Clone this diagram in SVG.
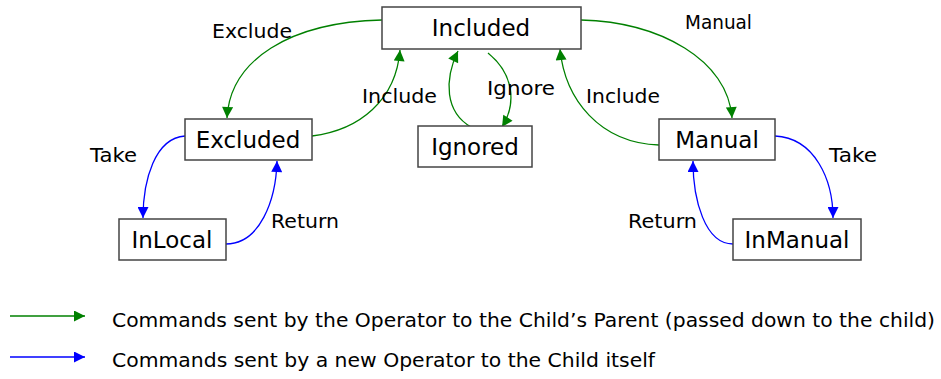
<svg xmlns="http://www.w3.org/2000/svg" width="941" height="379" viewBox="0 0 941 379">
<defs>
<style>
.box{fill:#fff;stroke:#444;stroke-width:1.5}
.nt{font-family:"DejaVu Sans","Liberation Sans",sans-serif;font-size:23px;fill:#000;text-anchor:middle}
.lb{font-family:"DejaVu Sans","Liberation Sans",sans-serif;font-size:19px;fill:#000}
.lg{font-family:"DejaVu Sans","Liberation Sans",sans-serif;font-size:19px;fill:#000}
.g{fill:none;stroke:#008000;stroke-width:1.3;marker-end:url(#ag)}
.b{fill:none;stroke:#0000ff;stroke-width:1.3;marker-end:url(#ab)}
</style>
<marker id="ag" viewBox="0 0 10 10" refX="10" refY="5" markerWidth="12" markerHeight="11" markerUnits="userSpaceOnUse" orient="auto"><path d="M0,0 L10,5 L0,10 z" fill="#008000"/></marker>
<marker id="ab" viewBox="0 0 10 10" refX="10" refY="5" markerWidth="12" markerHeight="11" markerUnits="userSpaceOnUse" orient="auto"><path d="M0,0 L10,5 L0,10 z" fill="#0000ff"/></marker>
</defs>
<rect width="941" height="379" fill="#fff"/>
<g id="connectors">
<path class="g" d="M382,20 C290,22 230,60 227,118"/>
<path class="g" d="M312,136 C360,130 396,100 400,50"/>
<path class="g" d="M488,53 C515,75 516,105 502,127"/>
<path class="g" d="M471,127 C445,112 444,80 458,51"/>
<path class="g" d="M581,20 C660,22 728,60 732,118"/>
<path class="g" d="M659,145 C600,143 565,100 560,49"/>
<path class="b" d="M185,136 C155,138 143,180 143,218"/>
<path class="b" d="M226,244 C260,244 276,200 277,161"/>
<path class="b" d="M775,136 C815,138 833,180 833,218"/>
<path class="b" d="M733,244 C705,244 693,200 693,161"/>
<path class="g" d="M10,316 L85,316"/>
<path class="b" d="M10,357 L85,357"/>
</g>
<g id="labels">
<text class="lb" x="212" y="38" textLength="80" lengthAdjust="spacingAndGlyphs">Exclude</text>
<text class="lb" x="362" y="103" textLength="75" lengthAdjust="spacingAndGlyphs">Include</text>
<text class="lb" x="487" y="95" textLength="68" lengthAdjust="spacingAndGlyphs">Ignore</text>
<text class="lb" x="685" y="29" textLength="67" lengthAdjust="spacingAndGlyphs">Manual</text>
<text class="lb" x="586" y="103" textLength="74" lengthAdjust="spacingAndGlyphs">Include</text>
<text class="lb" x="90" y="162" textLength="47" lengthAdjust="spacingAndGlyphs">Take</text>
<text class="lb" x="271" y="228" textLength="68" lengthAdjust="spacingAndGlyphs">Return</text>
<text class="lb" x="829" y="162" textLength="48" lengthAdjust="spacingAndGlyphs">Take</text>
<text class="lb" x="628" y="228" textLength="69" lengthAdjust="spacingAndGlyphs">Return</text>
<text class="lg" x="112" y="327" textLength="823" lengthAdjust="spacingAndGlyphs">Commands sent by the Operator to the Child’s Parent (passed down to the child)</text>
<text class="lg" x="112" y="367" textLength="543" lengthAdjust="spacingAndGlyphs">Commands sent by a new Operator to the Child itself</text>
</g>
<g id="node-included"><rect class="box" x="382" y="7" width="199" height="42"/><text class="nt" x="481" y="36">Included</text></g>
<g id="node-excluded"><rect class="box" x="185" y="119" width="127" height="41"/><text class="nt" x="248" y="148">Excluded</text></g>
<g id="node-ignored"><rect class="box" x="418" y="126" width="114" height="41"/><text class="nt" x="475" y="155">Ignored</text></g>
<g id="node-manual"><rect class="box" x="659" y="119" width="116" height="41"/><text class="nt" x="717" y="148">Manual</text></g>
<g id="node-inlocal"><rect class="box" x="119" y="219" width="107" height="41"/><text class="nt" x="172" y="248">InLocal</text></g>
<g id="node-inmanual"><rect class="box" x="733" y="219" width="128" height="41"/><text class="nt" x="797" y="248">InManual</text></g>
</svg>
